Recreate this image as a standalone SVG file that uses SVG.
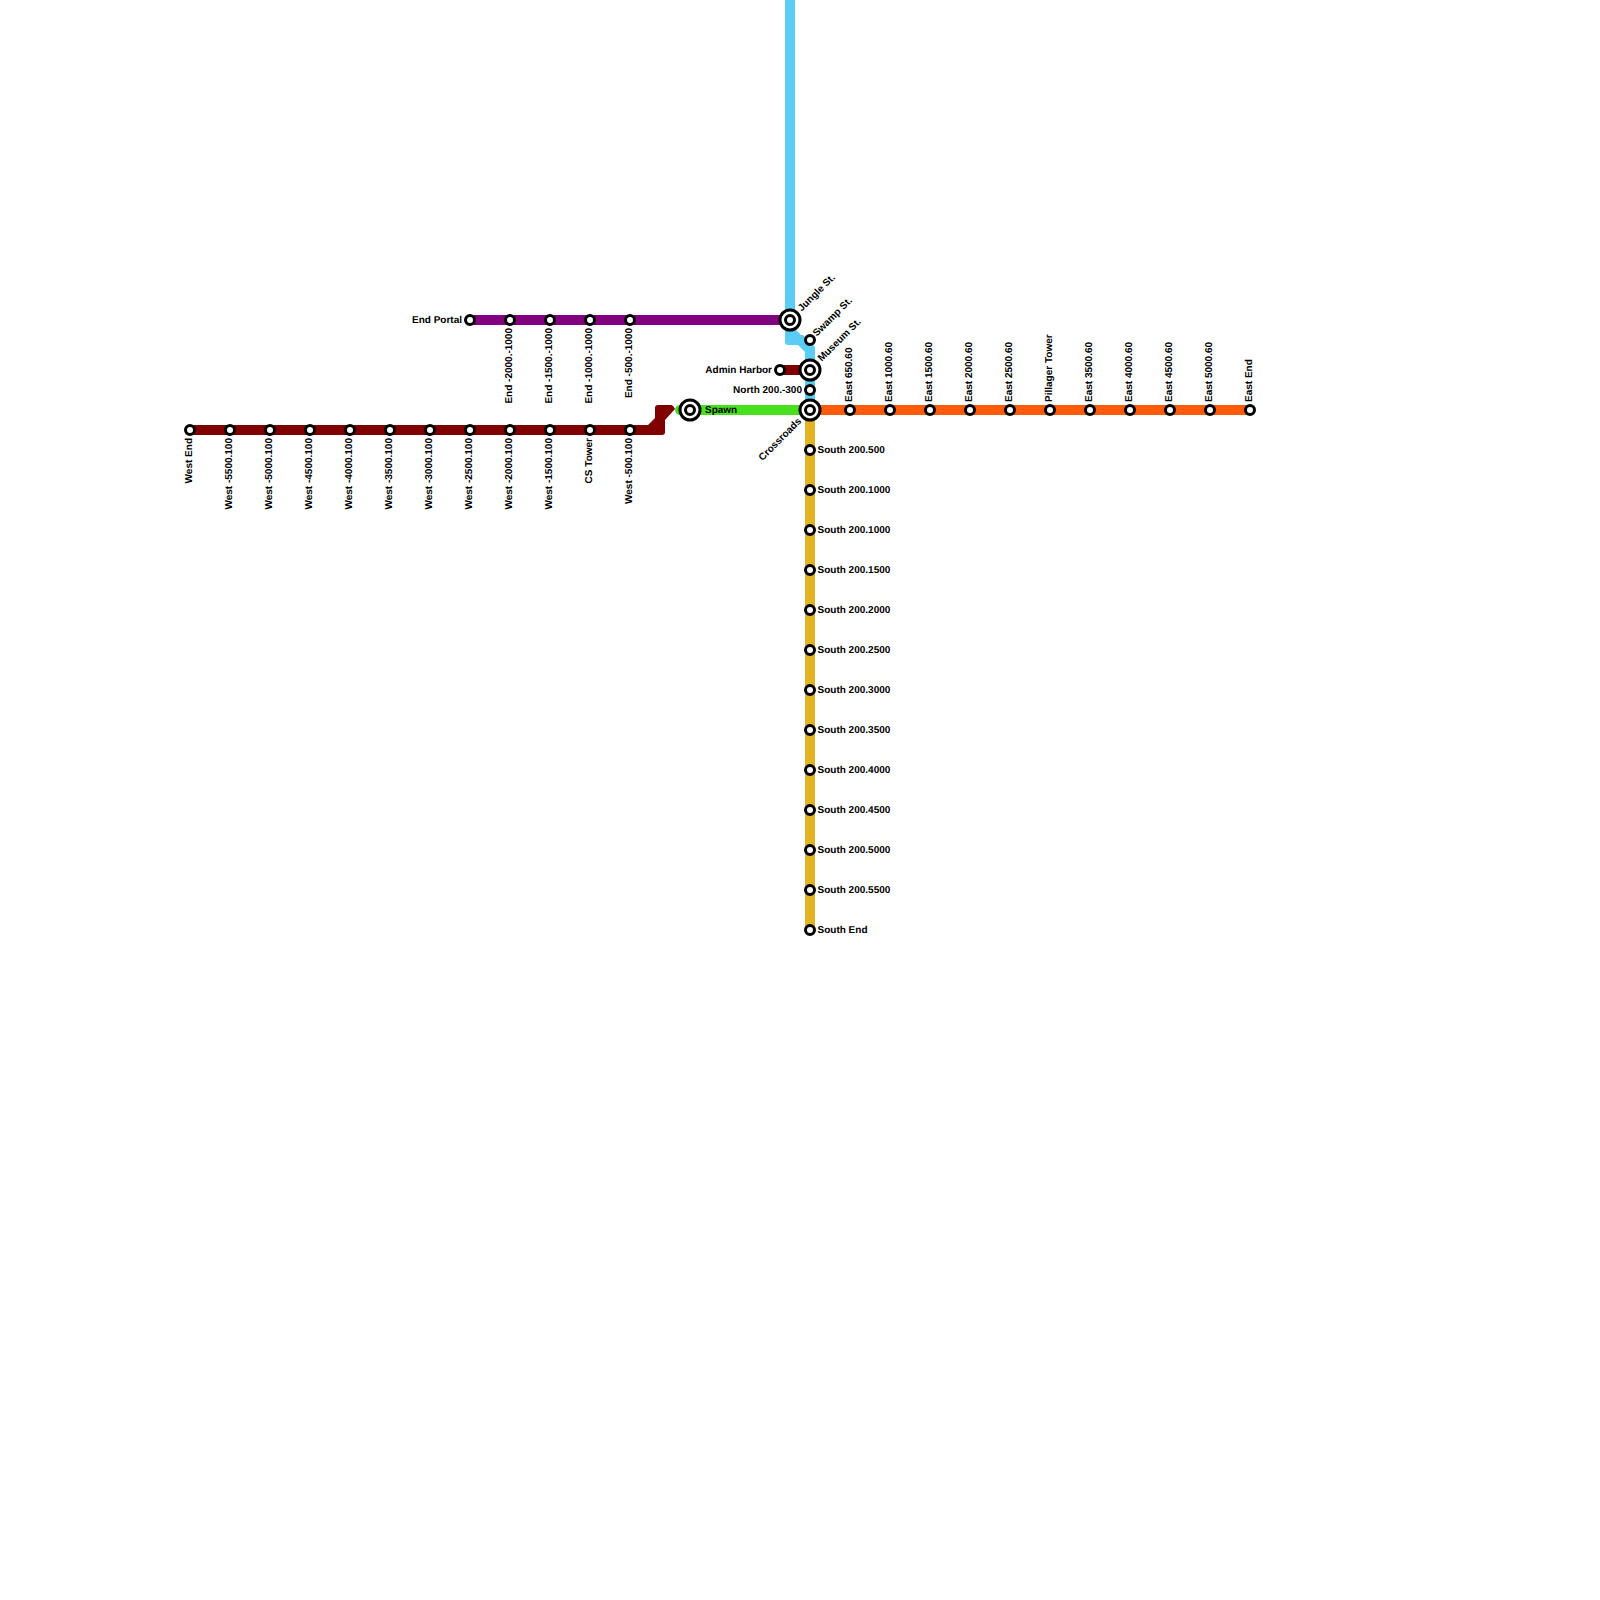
<svg xmlns="http://www.w3.org/2000/svg" width="1600" height="1600" viewBox="0 0 1600 1600">
<defs>
<style>
.l{fill:none;stroke-width:10;stroke-linejoin:round;stroke-linecap:round}
.st{fill:#fff;stroke:#000;stroke-width:3}
.t{font-family:"Liberation Sans",Arial,sans-serif;font-size:10px;font-weight:bold;fill:#000;dominant-baseline:middle;text-rendering:geometricPrecision}
.e{text-anchor:end}
</style>
<g id="s"><circle class="st" r="4.5"/></g>
<g id="x"><circle class="st" r="10"/><circle class="st" r="4.5"/></g>
</defs>
<rect width="1600" height="1600" fill="#fff"/>
<g id="connectors">
<path fill="#5bcdf5" d="M785 0H795V329L801 335H803L815 347V410H805V352L798 345H788Q785 345 785 342Z"/>
<path class="l" stroke="#800080" d="M470 320H790"/>
<path class="l" stroke="#47e01c" d="M680 410H810"/>
<path class="l" stroke="#800000" d="M780 370H810"/>
<path class="l" stroke="#ff5a0a" d="M810 410H1250"/>
<path class="l" stroke="#e2b424" d="M810 410V930"/>
<path fill="#800000" d="M190 425H648L655 418V408Q655 405 658 405H671Q673 405 675 409L665 420V432Q665 435 662 435H190Z"/>
</g>
<g id="n-west-end"><use href="#s" x="190" y="430"/><text class="t e" transform="translate(189.5 438) rotate(-90)">West End</text></g>
<g id="n-w5500"><use href="#s" x="230" y="430"/><text class="t e" transform="translate(229.5 438) rotate(-90)">West -5500.100</text></g>
<g id="n-w5000"><use href="#s" x="270" y="430"/><text class="t e" transform="translate(269.5 438) rotate(-90)">West -5000.100</text></g>
<g id="n-w4500"><use href="#s" x="310" y="430"/><text class="t e" transform="translate(309.5 438) rotate(-90)">West -4500.100</text></g>
<g id="n-w4000"><use href="#s" x="350" y="430"/><text class="t e" transform="translate(349.5 438) rotate(-90)">West -4000.100</text></g>
<g id="n-w3500"><use href="#s" x="390" y="430"/><text class="t e" transform="translate(389.5 438) rotate(-90)">West -3500.100</text></g>
<g id="n-w3000"><use href="#s" x="430" y="430"/><text class="t e" transform="translate(429.5 438) rotate(-90)">West -3000.100</text></g>
<g id="n-w2500"><use href="#s" x="470" y="430"/><text class="t e" transform="translate(469.5 438) rotate(-90)">West -2500.100</text></g>
<g id="n-w2000"><use href="#s" x="510" y="430"/><text class="t e" transform="translate(509.5 438) rotate(-90)">West -2000.100</text></g>
<g id="n-w1500"><use href="#s" x="550" y="430"/><text class="t e" transform="translate(549.5 438) rotate(-90)">West -1500.100</text></g>
<g id="n-cs"><use href="#s" x="590" y="430"/><text class="t e" transform="translate(589.5 438) rotate(-90)">CS Tower</text></g>
<g id="n-w500"><use href="#s" x="630" y="430"/><text class="t e" transform="translate(629.5 438) rotate(-90)">West -500.100</text></g>
<g id="n-end-portal"><use href="#s" x="470" y="320"/><text class="t e" x="462" y="320">End Portal</text></g>
<g id="n-e2000"><use href="#s" x="510" y="320"/><text class="t e" transform="translate(509.5 328) rotate(-90)">End -2000.-1000</text></g>
<g id="n-e1500"><use href="#s" x="550" y="320"/><text class="t e" transform="translate(549.5 328) rotate(-90)">End -1500.-1000</text></g>
<g id="n-e1000"><use href="#s" x="590" y="320"/><text class="t e" transform="translate(589.5 328) rotate(-90)">End -1000.-1000</text></g>
<g id="n-e500"><use href="#s" x="630" y="320"/><text class="t e" transform="translate(629.5 328) rotate(-90)">End -500.-1000</text></g>
<g id="n-spawn"><use href="#x" x="690" y="410"/><text class="t" x="705" y="410">Spawn</text></g>
<g id="n-jungle"><use href="#x" x="790" y="320"/><text class="t" transform="translate(800 310) rotate(-45)">Jungle St.</text></g>
<g id="n-swamp"><use href="#s" x="810" y="340"/><text class="t" transform="translate(815 335) rotate(-45)">Swamp St.</text></g>
<g id="n-museum"><use href="#x" x="810" y="370"/><text class="t" transform="translate(820 360) rotate(-45)">Museum St.</text></g>
<g id="n-admin"><use href="#s" x="780" y="370"/><text class="t e" x="772" y="370">Admin Harbor</text></g>
<g id="n-north"><use href="#s" x="810" y="390"/><text class="t e" x="802" y="390">North 200.-300</text></g>
<g id="n-crossroads"><use href="#x" x="810" y="410"/><text class="t e" transform="translate(800 420) rotate(-45)">Crossroads</text></g>
<g id="n-e650"><use href="#s" x="850" y="410"/><text class="t" transform="translate(849.5 402) rotate(-90)">East 650.60</text></g>
<g id="n-e1000e"><use href="#s" x="890" y="410"/><text class="t" transform="translate(889.5 402) rotate(-90)">East 1000.60</text></g>
<g id="n-e1500e"><use href="#s" x="930" y="410"/><text class="t" transform="translate(929.5 402) rotate(-90)">East 1500.60</text></g>
<g id="n-e2000e"><use href="#s" x="970" y="410"/><text class="t" transform="translate(969.5 402) rotate(-90)">East 2000.60</text></g>
<g id="n-e2500e"><use href="#s" x="1010" y="410"/><text class="t" transform="translate(1009.5 402) rotate(-90)">East 2500.60</text></g>
<g id="n-pillager"><use href="#s" x="1050" y="410"/><text class="t" transform="translate(1049.5 402) rotate(-90)">Pillager Tower</text></g>
<g id="n-e3500e"><use href="#s" x="1090" y="410"/><text class="t" transform="translate(1089.5 402) rotate(-90)">East 3500.60</text></g>
<g id="n-e4000e"><use href="#s" x="1130" y="410"/><text class="t" transform="translate(1129.5 402) rotate(-90)">East 4000.60</text></g>
<g id="n-e4500e"><use href="#s" x="1170" y="410"/><text class="t" transform="translate(1169.5 402) rotate(-90)">East 4500.60</text></g>
<g id="n-e5000e"><use href="#s" x="1210" y="410"/><text class="t" transform="translate(1209.5 402) rotate(-90)">East 5000.60</text></g>
<g id="n-east-end"><use href="#s" x="1250" y="410"/><text class="t" transform="translate(1249.5 402) rotate(-90)">East End</text></g>
<g id="n-s500"><use href="#s" x="810" y="450"/><text class="t" x="817.5" y="450">South 200.500</text></g>
<g id="n-s1000a"><use href="#s" x="810" y="490"/><text class="t" x="817.5" y="490">South 200.1000</text></g>
<g id="n-s1000b"><use href="#s" x="810" y="530"/><text class="t" x="817.5" y="530">South 200.1000</text></g>
<g id="n-s1500"><use href="#s" x="810" y="570"/><text class="t" x="817.5" y="570">South 200.1500</text></g>
<g id="n-s2000"><use href="#s" x="810" y="610"/><text class="t" x="817.5" y="610">South 200.2000</text></g>
<g id="n-s2500"><use href="#s" x="810" y="650"/><text class="t" x="817.5" y="650">South 200.2500</text></g>
<g id="n-s3000"><use href="#s" x="810" y="690"/><text class="t" x="817.5" y="690">South 200.3000</text></g>
<g id="n-s3500"><use href="#s" x="810" y="730"/><text class="t" x="817.5" y="730">South 200.3500</text></g>
<g id="n-s4000"><use href="#s" x="810" y="770"/><text class="t" x="817.5" y="770">South 200.4000</text></g>
<g id="n-s4500"><use href="#s" x="810" y="810"/><text class="t" x="817.5" y="810">South 200.4500</text></g>
<g id="n-s5000"><use href="#s" x="810" y="850"/><text class="t" x="817.5" y="850">South 200.5000</text></g>
<g id="n-s5500"><use href="#s" x="810" y="890"/><text class="t" x="817.5" y="890">South 200.5500</text></g>
<g id="n-south-end"><use href="#s" x="810" y="930"/><text class="t" x="817.5" y="930">South End</text></g>
</svg>
